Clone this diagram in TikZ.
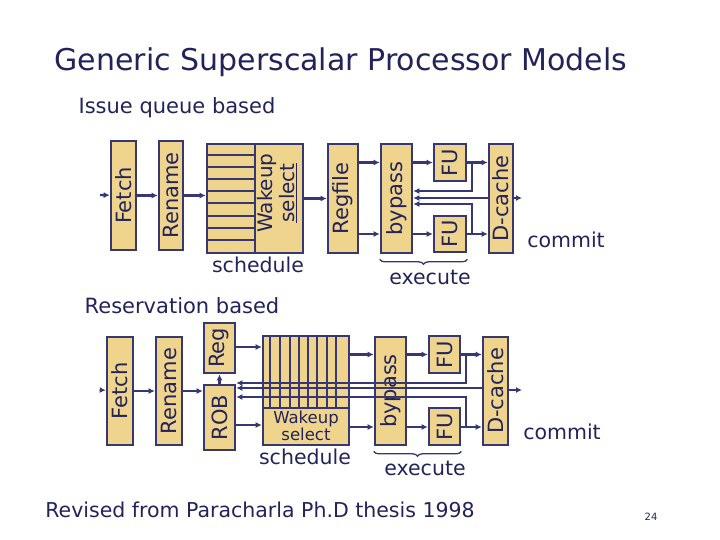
\documentclass[tikz,border=0pt]{standalone}
\usepackage{fontspec}
\setmainfont{DejaVu Sans}
\usetikzlibrary{decorations.pathreplacing,arrows.meta}
\definecolor{blkfill}{RGB}{238,212,140}
\definecolor{navy}{RGB}{55,55,115}
\definecolor{ink}{RGB}{35,35,90}
\begin{document}
\begin{tikzpicture}[x=1pt,y=-1pt,
    blk/.style={draw=navy,line width=2.6pt,fill=blkfill,inner sep=0pt,text=ink,font=\fontsize{21}{21}\selectfont},
    wire/.style={draw=navy,line width=2.4pt,-{Latex[length=6pt,width=6pt]}},
    line/.style={draw=navy,line width=2.4pt},
    lbl/.style={text=ink,font=\fontsize{20.5}{20.5}\selectfont}
]
\useasboundingbox (0,0) rectangle (720,540);
\node[text=ink,font=\fontsize{30}{30}\selectfont] (title) at (341,62) {Generic Superscalar Processor Models};
\node[lbl,font=\fontsize{21}{21}\selectfont] (iq) at (177,108) {Issue queue based};
\node[lbl,font=\fontsize{21}{21}\selectfont] (rs) at (182,306) {Reservation based};
\node[lbl] (note) at (260,510) {Revised from Paracharla Ph.D thesis 1998};
\node[text=ink,font=\fontsize{10}{10}\selectfont] (page) at (651,517) {24};

% issue queue based
\node[blk,minimum width=25,minimum height=109] (fetchA) at (123.5,195.5) {\rotatebox{90}{Fetch}};
\node[blk,minimum width=24,minimum height=109] (renameA) at (171,195.5) {\rotatebox{90}{Rename}};
\node[blk,minimum width=96,minimum height=109] (schedA) at (255,198.5) {};
\node[blk,minimum width=30,minimum height=109] (regA) at (343,198.5) {\rotatebox{90}{Regfile}};
\node[blk,minimum width=31,minimum height=109] (bypA) at (396.5,198.5) {\rotatebox{90}{bypass}};
\node[blk,minimum width=32,minimum height=37] (fu1A) at (450,162.5) {\rotatebox{90}{FU}};
\node[blk,minimum width=32,minimum height=36] (fu2A) at (450,234) {\rotatebox{90}{FU}};
\node[blk,minimum width=24,minimum height=109] (dcA) at (501,198.5) {\rotatebox{90}{D-cache}};
\draw[line] (255,144) -- (255,253);
\foreach \y in {155,167,179,191,203,216,228,240}
  \draw[line] (207,\y) -- (255,\y);
\node[text=ink,font=\fontsize{20}{15}\selectfont,inner sep=0pt] (wsA) at (277,193)
  {\rotatebox{90}{\shortstack{Wakeup\\\underline{select}}}};
\coordinate (inA) at (100,195);
\coordinate (outA) at (522,198);
\draw[wire] (inA) -- (fetchA);
\draw[wire] (fetchA) -- (renameA);
\draw[wire] (renameA.east) -- (schedA.west |- renameA.east);
\draw[wire] (schedA.east |- regA) -- (regA);
\draw[wire] (regA.east |- fu1A) -- (bypA.west |- fu1A);
\draw[wire] (regA.east |- fu2A) -- (bypA.west |- fu2A);
\draw[wire] (bypA.east |- fu1A) -- (fu1A);
\draw[wire] (bypA.east |- fu2A) -- (fu2A);
\draw[wire] (fu1A) -- (dcA.west |- fu1A);
\draw[wire] (fu2A) -- (dcA.west |- fu2A);
\draw[wire] (472,162) -- (472,191) -- (bypA.east |- 0,191);
\draw[wire] (dcA.west |- 0,198) -- (bypA.east |- 0,198);
\draw[wire] (472,233) -- (472,204) -- (bypA.east |- 0,204);
\draw[wire] (dcA.east |- outA) -- (outA);
\node[lbl] (commitA) at (566,240) {commit};
\node[lbl] (schlA) at (258,265) {schedule};
\draw[line,line width=1.3pt,decorate,decoration={brace,mirror,amplitude=5pt}] (bypA.south west) ++(0,5) coordinate (b1) -- (fu2A.south east |- b1);
\node[lbl] (exA) at (430,277) {execute};

% reservation based
\node[blk,minimum width=26,minimum height=108] (fetchB) at (120,391) {\rotatebox{90}{Fetch}};
\node[blk,minimum width=26,minimum height=108] (renameB) at (169,391) {\rotatebox{90}{Rename}};
\node[blk,minimum width=31,minimum height=50] (regB) at (219.5,348) {\rotatebox{90}{Reg}};
\node[blk,minimum width=31,minimum height=65] (robB) at (219.5,417.5) {\rotatebox{90}{ROB}};
\node[blk,minimum width=86,minimum height=109] (schedB) at (306,390.5) {};
\node[blk,minimum width=31,minimum height=108] (bypB) at (390.5,391) {\rotatebox{90}{bypass}};
\node[blk,minimum width=31,minimum height=37] (fu1B) at (444.5,354.5) {\rotatebox{90}{FU}};
\node[blk,minimum width=31,minimum height=37] (fu2B) at (444.5,426.5) {\rotatebox{90}{FU}};
\node[blk,minimum width=25,minimum height=108] (dcB) at (495.5,391) {\rotatebox{90}{D-cache}};
\draw[line] (263,408) -- (349,408);
\foreach \x in {270,280,290,299,308,317,327,336}
  \draw[line] (\x,336) -- (\x,408);
\node[text=ink,font=\fontsize{16.5}{14}\selectfont,align=center,inner sep=0pt] (wsB) at (306,426) {Wakeup\\select};
\coordinate (inB) at (100,390);
\coordinate (outB) at (522,390);
\draw[wire] (inB) -- (fetchB);
\draw[wire] (fetchB) -- (renameB);
\draw[wire] (renameB.east) -- (robB.west |- renameB.east);
\draw[wire] (robB) -- (regB);
\draw[wire] (regB.east |- 0,347) -- (schedB.west |- 0,347);
\draw[wire] (robB.east |- 0,425) -- (schedB.west |- 0,425);
\draw[wire] (schedB.east |- fu1B) -- (bypB.west |- fu1B);
\draw[wire] (schedB.east |- 0,427) -- (bypB.west |- 0,427);
\draw[wire] (bypB.east |- fu1B) -- (fu1B);
\draw[wire] (bypB.east |- 0,427) -- (fu2B.west |- 0,427);
\draw[wire] (fu1B) -- (dcB.west |- fu1B);
\draw[wire] (fu2B.east |- 0,427) -- (dcB.west |- 0,427);
\draw[wire] (466,354) -- (466,383) -- (robB.east |- 0,383);
\draw[wire] (dcB.west |- 0,388) -- (robB.east |- 0,388);
\draw[wire] (466,427) -- (466,397) -- (robB.east |- 0,397);
\draw[wire] (dcB.east |- outB) -- (outB);
\node[lbl] (commitB) at (562,432) {commit};
\node[lbl] (schlB) at (305,457) {schedule};
\draw[line,line width=1.3pt,decorate,decoration={brace,mirror,amplitude=5pt}] (bypB.south west) ++(0,5) coordinate (b2) -- (fu2B.south east |- b2);
\node[lbl] (exB) at (425,468) {execute};
\end{tikzpicture}
\end{document}
